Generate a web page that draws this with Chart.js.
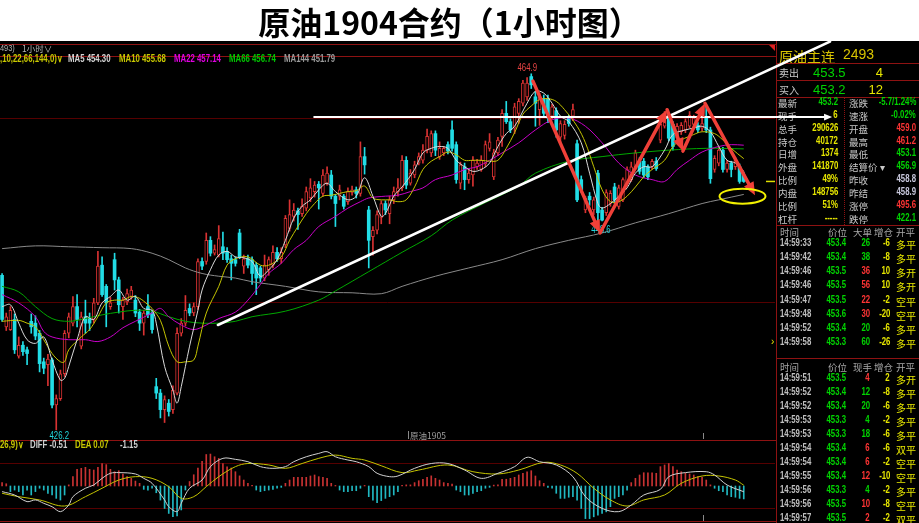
<!DOCTYPE html>
<html>
<head>
<meta charset="utf-8">
<script src="https://cdn.jsdelivr.net/npm/chart.js@4.4.1/dist/chart.umd.min.js"></script>
<style>
  html, body { margin: 0; padding: 0; overflow: hidden; }
  body { width: 919px; height: 523px; background: #000; position: relative; }
  #title { position: absolute; left: 0; top: 0; width: 899px; padding-right: 20px; height: 41px; background: #fff; color: #000;
           font: bold 32px "Noto Sans CJK SC", sans-serif; text-align: center; line-height: 43px; z-index: 5; }
  #panel { position: absolute; left: 0; top: 0; width: 919px; height: 523px; z-index: 2; }
  .t { position: absolute; white-space: nowrap; line-height: 14px; height: 14px; }
  .ln { position: absolute; }
  #main { position: absolute; left: 0; top: 41px; z-index: 3; }
  #macd { position: absolute; left: 0; top: 440px; z-index: 1; }
</style>
</head>
<body>
<div id="title">原油1904合约（1小时图）</div>
<div id="panel"></div>
<canvas id="main" width="919" height="399"></canvas>
<canvas id="macd" width="775" height="83"></canvas>
<script>
'use strict'

// 1 hour candles, oldest first
const opens = [443.0,437.4,437.1,438.2,434.2,435.4,434.9,438.0,437.8,436.7,
  433.6,433.3,433.8,428.9,429.6,432.3,436.7,437.8,439.6,435.3,
  438.5,438.3,438.2,440.0,444.1,441.8,439.6,444.7,442.5,439.6,
  440.1,440.7,440.3,439.0,437.8,439.6,438.9,430.9,430.2,428.4,
  429.1,428.4,430.2,436.7,437.8,439.4,438.9,439.6,444.5,444.5,
  446.8,445.4,445.2,446.1,445.6,444.8,444.7,447.6,444.0,444.8,
  444.7,444.1,443.8,442.7,443.6,444.1,445.5,444.8,446.3,448.1,
  449.4,450.0,449.7,450.3,451.4,452.1,452.9,451.9,453.0,453.9,
  451.6,451.6,451.6,451.0,452.0,452.3,451.9,455.9,450.1,447.2,
  447.9,449.3,450.8,449.7,451.2,452.1,452.5,455.5,453.0,453.9,
  455.2,455.5,456.6,456.3,458.4,455.9,456.3,457.2,458.8,457.2,
  453.0,454.8,453.4,453.9,454.8,454.5,455.1,456.8,453.7,456.3,
  458.1,460.6,459.7,459.0,460.6,461.7,462.4,464.6,462.4,461.0,
  462.2,462.2,460.3,460.9,458.0,458.2,460.1,460.3,457.3,453.4,
  450.1,451.6,450.1,454.1,450.1,449.8,450.8,452.6,450.5,451.2,
  453.0,453.4,454.8,455.4,455.4,454.8,454.8,455.4,457.7,459.2,
  460.2,459.4,457.9,458.6,458.8,459.2,459.4,459.3,459.0,460.2,
  458.8,454.5,455.2,456.6,454.5,455.2,454.8,454.8,453.9]
const highs = [443.2,438.9,439.6,438.8,436.3,435.8,435.2,438.8,438.6,437.0,
  434.0,434.4,434.0,430.0,432.7,437.0,438.9,440.7,440.9,439.0,
  440.3,438.9,440.5,445.6,445.0,442.0,440.6,445.4,442.8,440.6,
  441.5,441.8,440.8,439.3,439.2,440.9,439.2,431.8,430.6,429.9,
  429.5,431.0,437.3,438.3,440.8,439.9,440.0,444.8,444.9,447.6,
  447.2,446.3,448.4,447.7,446.0,445.2,445.0,448.0,445.2,445.2,
  445.0,444.4,444.0,445.2,445.0,446.2,446.0,446.0,449.5,451.2,
  450.8,450.3,451.3,452.6,453.5,453.2,453.2,454.5,454.8,454.4,
  451.8,452.8,451.8,452.5,452.7,452.6,457.5,456.9,450.5,448.3,
  450.0,451.1,451.1,451.6,452.6,453.5,456.0,455.9,454.5,455.4,
  456.3,457.2,458.9,458.7,458.7,457.5,457.0,457.5,459.8,457.5,
  455.3,455.2,454.5,455.9,455.6,456.0,457.6,458.4,456.7,458.0,
  461.0,461.9,460.0,461.7,462.2,464.2,464.5,464.9,463.0,462.8,
  462.6,462.6,461.6,461.2,459.8,459.8,460.4,461.6,457.7,453.8,
  451.6,452.0,451.5,454.4,450.4,452.3,452.2,453.0,452.8,453.6,
  454.8,455.3,456.6,455.8,455.7,455.0,455.6,455.8,459.8,460.8,
  460.5,459.7,459.5,459.6,460.0,460.8,460.4,459.6,461.2,461.5,
  459.1,456.0,456.9,456.9,455.5,455.4,455.8,455.1,454.2]
const lows = [438.0,437.0,437.0,434.5,434.0,434.3,433.3,436.7,436.0,432.5,
  432.3,431.0,428.6,426.2,429.4,432.0,436.2,437.5,437.4,435.0,
  436.7,437.0,437.8,439.8,440.7,437.4,439.3,441.4,438.9,438.2,
  439.8,440.4,438.5,437.0,436.5,438.4,436.7,429.6,427.5,427.0,
  427.7,428.0,430.0,436.4,437.5,438.6,438.6,439.3,443.6,444.2,
  445.1,445.2,445.0,444.7,444.4,442.5,444.0,444.8,443.2,443.8,
  442.0,440.9,442.3,442.4,443.0,443.8,444.5,444.3,446.0,447.8,
  448.9,448.0,449.4,450.0,451.0,451.5,450.2,451.6,452.8,451.3,
  448.3,451.2,450.2,450.7,451.7,451.4,451.6,454.0,443.8,445.2,
  447.5,448.6,449.6,448.6,450.8,451.6,452.2,452.4,452.8,453.6,
  455.0,455.2,456.3,455.9,456.0,455.6,456.0,456.2,456.5,453.0,
  452.4,452.3,453.0,452.7,454.5,454.3,454.8,456.5,453.4,456.0,
  457.0,459.5,458.5,458.4,459.5,461.4,462.0,463.3,459.2,459.3,
  460.2,459.6,460.0,458.0,457.5,457.8,459.2,459.8,451.0,452.0,
  449.8,450.6,449.6,448.6,448.9,449.5,450.5,450.8,450.2,451.0,
  452.8,453.2,454.5,454.0,453.6,453.4,454.5,454.4,457.4,459.0,
  457.6,456.6,457.6,458.3,458.5,459.0,459.1,458.5,458.7,458.5,
  453.0,454.2,454.9,454.2,454.2,453.7,454.5,453.0,453.1]
const closes = [438.2,438.5,439.2,434.9,435.4,434.7,434.5,437.4,436.4,433.4,
  432.9,433.9,428.9,429.6,432.3,436.7,438.5,439.6,438.2,438.5,
  437.8,437.8,440.0,444.0,440.9,440.0,440.0,442.5,439.8,440.3,
  441.0,441.4,438.9,437.8,438.9,438.7,437.1,430.2,428.4,429.5,
  428.2,430.5,436.7,437.8,439.2,438.9,439.6,444.5,444.0,446.8,
  445.4,445.8,447.0,445.4,444.7,444.3,444.3,445.0,444.8,444.1,
  443.2,442.7,442.7,444.1,444.7,445.5,444.8,445.5,449.2,449.6,
  450.1,449.6,450.5,452.1,452.5,452.8,452.5,453.9,454.1,451.6,
  450.8,452.3,450.5,452.1,452.3,451.9,455.9,455.0,446.8,447.9,
  449.6,450.8,450.1,451.2,452.1,452.5,455.5,452.8,454.1,455.0,
  455.9,456.6,458.1,458.4,456.6,456.8,456.8,456.5,456.8,453.4,
  455.0,453.4,454.1,455.5,455.2,455.5,457.2,457.5,456.3,457.7,
  460.6,459.7,458.8,461.3,461.9,463.9,463.9,463.7,461.7,462.4,
  460.6,460.1,461.3,458.8,459.5,459.4,459.5,461.0,451.2,452.3,
  451.4,451.2,451.2,449.8,449.0,452.0,451.9,451.2,452.5,453.4,
  454.5,454.8,456.3,454.3,453.9,453.7,455.4,454.6,459.4,460.6,
  457.9,457.0,459.2,459.3,459.7,460.4,460.1,458.8,459.5,458.8,
  453.5,455.7,456.6,454.5,455.2,454.5,455.5,453.2,453.2]

// moving averages as [candle, price]
const ma5Pts = [[0,439.6],[2,439.8],[4,437.8],[6,436.0],[8,435.6],[10,436.3],[12,433.8],[14,431.6],[15,431.8],[16,433.1],
  [18,436.0],[20,438.5],[22,438.2],[24,440.0],[26,440.7],[28,441.4],[30,440.3],[32,440.7],[34,439.4],[36,439.2],
  [37,437.8],[39,433.1],[41,430.5],[42,429.1],[43,430.9],[45,435.3],[47,439.2],[48,441.4],[50,443.6],[52,445.2],
  [54,445.6],[56,445.0],[58,444.9],[60,444.5],[62,442.9],[64,443.6],[66,444.7],[68,446.8],[70,449.2],[72,450.5],
  [74,451.2],[76,452.3],[78,453.0],[80,452.1],[83,451.2],[85,451.6],[87,453.6],[89,451.6],[91,449.4],[92,449.7],
  [94,451.6],[96,452.6],[99,454.5],[101,456.3],[103,456.8],[105,457.0],[107,456.8],[109,455.5],[111,454.8],[113,454.3],
  [115,454.5],[117,455.2],[119,457.0],[121,458.4],[123,459.2],[126,461.7],[128,463.0],[130,462.8],[132,461.7],[134,460.3],
  [136,459.7],[139,457.4],[141,454.1],[143,450.8],[144,450.3],[146,450.8],[148,451.6],[150,452.5],[152,454.1],[154,454.8],
  [156,454.8],[159,456.6],[161,458.3],[164,458.8],[166,459.0],[168,459.2],[170,458.6],[172,457.0],[174,455.5],[176,455.2],
  [178,454.30]]
const ma10Pts = [[0,438.0],[4,438.1],[6,437.8],[8,437.4],[10,436.0],[12,434.5],[14,433.6],[15,433.6],[16,434.9],[19,436.3],
  [21,437.1],[23,438.5],[25,440.0],[27,440.3],[29,440.3],[31,440.7],[33,440.5],[35,439.8],[36,439.4],[38,438.1],
  [40,435.3],[42,433.6],[44,433.6],[46,433.8],[47,435.3],[49,438.9],[52,441.8],[54,444.1],[56,444.8],[59,445.0],
  [62,444.1],[64,444.1],[67,445.0],[69,446.8],[71,448.3],[73,449.7],[75,450.8],[77,451.6],[79,451.7],[81,451.9],
  [83,452.1],[85,452.2],[87,452.7],[89,451.4],[91,451.2],[93,451.2],[95,451.0],[97,451.2],[99,452.6],[101,454.5],
  [103,455.4],[105,455.9],[107,456.4],[109,456.1],[111,455.5],[113,455.5],[115,455.5],[117,455.4],[119,455.5],[121,456.8],
  [123,458.5],[125,460.5],[127,461.4],[129,462.1],[131,462.2],[133,461.9],[135,461.0],[138,459.2],[140,457.4],[142,454.8],
  [144,452.3],[146,451.0],[148,451.0],[150,451.6],[152,452.6],[154,453.7],[156,454.5],[159,455.5],[161,457.0],[163,457.7],
  [166,458.3],[168,458.6],[171,458.4],[173,457.7],[175,456.8],[178,455.68]]
const ma22Pts = [[0,440.9],[4,440.0],[8,438.5],[10,436.9],[12,436.3],[16,436.0],[20,436.0],[23,435.8],[26,436.3],[29,437.3],
  [32,438.0],[36,438.9],[38,439.4],[40,438.5],[43,437.6],[46,437.1],[49,437.6],[52,438.3],[56,439.0],[59,440.3],
  [62,442.0],[64,443.2],[67,444.3],[70,445.8],[73,446.8],[76,448.3],[80,449.4],[83,450.3],[86,451.0],[88,451.4],
  [92,451.6],[95,451.7],[98,452.1],[101,452.5],[104,453.4],[108,453.9],[111,454.5],[114,454.8],[117,455.5],[120,456.3],
  [124,457.4],[128,458.8],[132,459.9],[136,460.1],[140,459.2],[144,457.4],[148,455.2],[152,453.9],[156,453.4],[159,453.2],
  [162,454.5],[165,455.5],[168,456.4],[172,457.0],[175,457.2],[178,457.14]]
const ma66Pts = [[0,441.8],[4,441.2],[8,439.6],[12,438.3],[16,438.0],[20,438.3],[24,438.7],[28,439.0],[32,439.2],[36,439.1],
  [40,438.5],[44,438.0],[48,437.8],[52,437.8],[56,438.0],[60,438.5],[68,439.1],[76,440.3],[80,441.3],[88,443.4],
  [96,445.5],[103,447.3],[108,449.0],[116,450.9],[124,452.7],[128,454.1],[136,455.4],[144,455.9],[152,456.3],[160,456.6],
  [169,456.8],[178,456.74]]
const ma144Pts = [[0,445.9],[8,446.2],[16,446.1],[24,446.0],[31,445.9],[36,445.4],[40,444.7],[44,443.8],[48,443.2],[52,442.9],
  [56,442.7],[60,442.3],[68,441.8],[76,441.2],[84,441.1],[91,441.0],[96,441.8],[104,442.9],[112,443.8],[120,444.7],
  [128,445.9],[136,446.8],[144,447.6],[152,448.7],[160,449.7],[168,450.8],[172,451.2],[178,451.79]]

// MACD(12,26,9)
const macdHist = [0.3,0.2,-0.5,-0.36,-0.5,-0.8,-0.36,-0.8,-0.5,-0.2,
  -0.36,-0.65,-0.8,-1.1,-1.25,-0.8,0.1,0.83,1.48,1.57,
  1.66,1.48,1.42,1.66,2.0,1.9,1.48,1.27,1.36,1.07,
  0.83,0.68,0.44,0.24,-0.3,-0.36,-0.2,-0.6,-1.25,-2.0,
  -2.44,-2.73,-2.67,-2.13,-0.36,0.4,1.0,1.6,2.2,2.8,
  2.84,2.6,2.45,2.0,1.7,1.6,1.27,0.9,0.53,0.24,
  0.05,-0.36,-0.5,-0.42,-0.36,-0.3,-0.2,-0.12,0.24,0.53,
  0.77,0.77,0.77,0.77,0.89,0.98,0.83,0.77,0.68,0.24,
  0.05,-0.36,-0.5,-0.5,-0.42,-0.42,-0.2,0.05,-0.95,-1.25,
  -1.48,-1.3,-1.1,-0.95,-0.8,-0.5,0.05,0.1,0.1,0.3,
  0.47,0.6,0.77,0.9,0.68,0.53,0.3,0.24,0.18,-0.36,
  -0.5,-0.8,-0.8,-0.65,-0.5,-0.42,-0.2,-0.12,0.08,0.1,
  0.6,0.6,0.68,0.77,0.98,1.13,1.27,1.36,0.89,0.47,
  0.24,-0.12,-0.2,-0.65,-1.1,-1.1,-1.0,-0.95,-1.25,-2.0,
  -2.9,-2.9,-2.74,-2.6,-2.44,-2.3,-1.84,-1.1,-0.95,-0.8,
  -0.36,0.3,0.68,0.98,1.18,1.18,1.18,1.13,1.72,1.87,
  2.0,1.72,1.42,1.27,1.13,1.07,0.98,0.83,0.77,0.53,
  0.1,-0.2,-0.42,-0.5,-0.8,-0.95,-1.0,-1.1,-1.15]
const diffPts = [[0,-0.5],[3,-0.8],[6,-1.39],[8,-1.24],[10,-1.54],[12,-1.84],[14,-2.28],[16,-1.69],[17,-0.95],[20,-0.2],
  [22,0.09],[24,0.68],[26,1.13],[28,1.19],[32,1.07],[34,0.68],[36,0.24],[39,-1.24],[40,-1.84],[42,-2.28],
  [43,-1.54],[45,-0.2],[48,0.53],[50,1.72],[53,2.46],[56,2.37],[59,2.16],[62,1.72],[65,1.57],[68,1.72],
  [70,2.16],[73,2.6],[76,2.9],[78,3.05],[80,2.6],[83,2.31],[85,2.16],[88,1.72],[90,1.13],[93,0.83],
  [95,0.89],[99,1.57],[103,2.0],[107,2.0],[111,1.42],[115,0.68],[119,1.13],[123,1.72],[126,2.55],[129,2.16],
  [133,1.87],[137,0.83],[140,-0.95],[144,-1.99],[148,-2.28],[151,-1.69],[154,-0.8],[158,-0.3],[160,0.83],[164,1.19],
  [169,1.27],[171,0.98],[174,0.09],[178,-0.51]]
const deaPts = [[0,-0.65],[4,-0.95],[9,-1.24],[15,-1.78],[20,-0.95],[24,-0.2],[28,0.53],[32,0.83],[36,0.68],[40,-0.06],
  [43,-1.1],[46,-0.95],[49,-0.06],[52,0.83],[56,1.72],[59,2.0],[64,1.87],[68,1.57],[72,2.0],[76,2.46],
  [80,2.75],[84,2.46],[87,2.31],[91,1.8],[96,1.19],[100,1.42],[107,1.87],[113,1.27],[119,1.07],[124,1.42],
  [130,2.1],[134,1.87],[138,1.13],[142,-0.2],[146,-1.24],[150,-1.78],[154,-1.24],[159,-0.8],[163,0.24],[168,0.89],
  [172,0.89],[176,0.53],[178,0.07]]

const priceGrid = [440, 460]
const macdGrid = [-2, 2]
const peakMarks = [[127, 'high'], [13, 'low'], [143, 'low']]

// hand drawn marks on the chart, in [candle, price]
const trendLine = [[51.8, 437.6], [198.7, 468.4]]
const resistLine = [[74.9, 460.2], [199.2, 460.2]]
const zigzag = [[127.4, 464.1], [143.5, 447.6], [159.6, 461.0], [163.4, 456.5], [168.7, 461.7], [180.7, 451.7]]
const ringAt = [177.7, 451.6]

// quote panel
const quoteLeft = [['最新','453.2','g'],['现手','6','y'],['总手','290626','y'],['持仓','40172','y'],['日增','1374','y'],
  ['外盘','141870','y'],['比例','49%','y'],['内盘','148756','y'],['比例','51%','y'],['杠杆','-----','y']]
const quoteRight = [['涨跌','-5.7/1.24%','g'],['速涨','-0.02%','g'],['开盘','459.0','r'],['最高','461.2','r'],['最低','453.1','g'],
  ['结算价 ▾','456.9','g'],['昨收','458.8','w'],['昨结','458.9','w'],['涨停','495.6','r'],['跌停','422.1','g']]
const bigTrades = [['14:59:33','453.4','26','g','-6','多平'],['14:59:42','453.4','38','g','-8','多平'],
  ['14:59:46','453.5','36','r','10','多开'],['14:59:46','453.5','56','r','10','多开'],
  ['14:59:47','453.5','22','r','-2','空平'],['14:59:48','453.6','30','r','-20','空平'],
  ['14:59:52','453.4','20','g','-6','多平'],['14:59:58','453.3','60','g','-26','多平']]
const trades = [['14:59:51','453.5','4','r','2','多开'],['14:59:52','453.4','12','g','-8','多平'],
  ['14:59:52','453.4','20','g','-6','多平'],['14:59:53','453.3','4','g','-2','多平'],
  ['14:59:53','453.3','18','g','-6','多平'],['14:59:54','453.4','6','r','-6','双平'],
  ['14:59:54','453.4','6','r','-2','空平'],['14:59:55','453.4','12','r','-10','空平'],
  ['14:59:56','453.3','4','g','-2','多平'],['14:59:56','453.5','10','r','-8','空平'],
  ['14:59:57','453.5','2','r','-2','双平']]

const N = 186
const slots = Array.from({ length: N }, (_, i) => i)
const RED = '#d83232'
const CYAN = '#22dde6'
const GRID = '#560000'
const BORDER = '#8e1212'
const CJK = '"Noto Sans CJK SC", sans-serif'
const SANS = '"Liberation Sans", sans-serif'
const NARROW = 0.78   // horizontal squeeze for the terminal's narrow digits
const COL = { g: '#00d400', y: '#e6e600', r: '#ff3434', w: '#c8c8dc' }

const spread = function (pts) {
  const a = new Array(N).fill(null)
  pts.forEach(([i, v]) => { a[i] = v })
  return a
}
const isUp = i => closes[i] >= opens[i]

const maLine = function (pts, color) {
  return { type: 'line', data: spread(pts), borderColor: color, borderWidth: 1, pointRadius: 0,
    tension: 0.35, spanGaps: true, order: 1 }
}

const arrow = function (ctx, x1, y1, x2, y2, w, head, color) {
  const a = Math.atan2(y2 - y1, x2 - x1)
  const bx = x2 - head * Math.cos(a)
  const by = y2 - head * Math.sin(a)
  const hw = head * 0.42
  ctx.strokeStyle = color
  ctx.fillStyle = color
  ctx.lineWidth = w
  ctx.beginPath(); ctx.moveTo(x1, y1); ctx.lineTo(bx, by); ctx.stroke()
  ctx.beginPath()
  ctx.moveTo(x2, y2)
  ctx.lineTo(bx + hw * Math.sin(a), by - hw * Math.cos(a))
  ctx.lineTo(bx - hw * Math.sin(a), by + hw * Math.cos(a))
  ctx.closePath(); ctx.fill()
}

const narrowText = function (ctx, s, x, y) {
  ctx.save()
  ctx.translate(x, y)
  ctx.scale(NARROW, 1)
  ctx.fillText(s, 0, 0)
  ctx.restore()
}

const drawings = {
  id: 'drawings',
  afterDatasetsDraw(chart) {
    const { ctx, chartArea } = chart
    const X = i => chart.scales.x.getPixelForValue(i)
    const Y = p => chart.scales.y.getPixelForValue(p)
    ctx.save()

    ctx.font = '10px ' + SANS
    ctx.textAlign = 'center'
    peakMarks.forEach(([i, kind]) => {
      if (kind === 'high') {
        ctx.fillStyle = '#e84444'; ctx.textBaseline = 'bottom'
        narrowText(ctx, highs[i].toFixed(1), X(i) - 4, Y(highs[i]) - 1)
      } else {
        ctx.fillStyle = '#22d4dc'; ctx.textBaseline = 'top'
        narrowText(ctx, lows[i].toFixed(1), X(i) + 3, Y(lows[i]) + 1)
      }
    })

    const last = closes[closes.length - 1]
    ctx.strokeStyle = '#e0e000'; ctx.lineWidth = 1.5
    ctx.beginPath(); ctx.moveTo(chartArea.right - 9, Y(last)); ctx.lineTo(chartArea.right, Y(last)); ctx.stroke()

    ctx.lineCap = 'round'
    ctx.strokeStyle = '#ffffff'; ctx.lineWidth = 2.6
    ctx.beginPath()
    ctx.moveTo(X(trendLine[0][0]), Y(trendLine[0][1]))
    ctx.lineTo(X(trendLine[1][0]), Y(trendLine[1][1]))
    ctx.stroke()
    arrow(ctx, X(resistLine[0][0]), Y(resistLine[0][1]), X(resistLine[1][0]), Y(resistLine[1][1]), 2, 8, '#ffffff')

    for (let k = 0; k < zigzag.length - 1; k++) {
      arrow(ctx, X(zigzag[k][0]), Y(zigzag[k][1]), X(zigzag[k + 1][0]), Y(zigzag[k + 1][1]), 3.5, 13, '#f04038')
    }

    ctx.strokeStyle = '#f2f000'; ctx.lineWidth = 2
    ctx.beginPath(); ctx.ellipse(X(ringAt[0]), Y(ringAt[1]), 23, 7.5, 0, 0, Math.PI * 2); ctx.stroke()
    ctx.restore()
  }
}

new Chart(document.getElementById('main'), {
  type: 'bar',
  data: {
    labels: slots,
    datasets: [
      maLine(ma5Pts, '#dadada'),
      maLine(ma10Pts, '#c4c400'),
      maLine(ma22Pts, '#c800c8'),
      maLine(ma66Pts, '#00a800'),
      maLine(ma144Pts, '#8a8a8a'),
      {
        type: 'bar', data: opens.map((o, i) => [o, closes[i]]), barThickness: 3, minBarLength: 1,
        backgroundColor: c => isUp(c.dataIndex) ? '#000' : CYAN,
        borderColor: RED, borderWidth: c => isUp(c.dataIndex) ? 1 : 0,
        borderSkipped: false, grouped: false, order: 2
      },
      {
        type: 'bar', data: lows.map((l, i) => [l, highs[i]]), barThickness: 1,
        backgroundColor: c => isUp(c.dataIndex) ? RED : CYAN, grouped: false, order: 3
      }
    ]
  },
  options: {
    responsive: false,
    animation: false,
    layout: { padding: { left: 0, right: 144, top: 19, bottom: 0 } },
    plugins: { legend: { display: false }, tooltip: { enabled: false } },
    scales: {
      x: { display: false, offset: true },
      y: {
        min: 425.1, max: 466.4,
        afterBuildTicks: s => { s.ticks = priceGrid.map(v => ({ value: v })) },
        ticks: { display: false }, border: { display: false },
        grid: { color: GRID, drawTicks: false }
      }
    }
  },
  plugins: [drawings]
})

new Chart(document.getElementById('macd'), {
  type: 'bar',
  data: {
    labels: slots,
    datasets: [
      { type: 'line', data: spread(diffPts), borderColor: '#d0d0d0', borderWidth: 1, pointRadius: 0, tension: 0.35, spanGaps: true, order: 1 },
      { type: 'line', data: spread(deaPts), borderColor: '#c4c400', borderWidth: 1, pointRadius: 0, tension: 0.35, spanGaps: true, order: 1 },
      { type: 'bar', data: macdHist, barThickness: 1, backgroundColor: c => macdHist[c.dataIndex] >= 0 ? '#c83232' : '#20b8c2', order: 2 }
    ]
  },
  options: {
    responsive: false,
    animation: false,
    layout: { padding: 0 },
    plugins: { legend: { display: false }, tooltip: { enabled: false } },
    scales: {
      x: { display: false, offset: true },
      y: {
        min: -3.29, max: 4.09,
        afterBuildTicks: s => { s.ticks = macdGrid.map(v => ({ value: v })) },
        ticks: { display: false }, border: { display: false },
        grid: { color: GRID, drawTicks: false }
      }
    }
  }
})

// text and frame around the charts
const panel = document.getElementById('panel')

// opts: right-aligned, bold, narrow (squeezed latin digits)
const txt = function (x, y, s, color, size, font, opts) {
  const o = opts || {}
  const d = document.createElement('div')
  d.className = 't'
  d.textContent = s
  d.style.color = color
  d.style.font = (o.bold ? 'bold ' : '') + size + 'px ' + font
  d.style.top = (y - 7) + 'px'
  if (o.right) d.style.right = (919 - x) + 'px'
  else d.style.left = x + 'px'
  if (o.narrow) {
    d.style.transform = 'scaleX(' + NARROW + ')'
    d.style.transformOrigin = o.right ? 'right center' : 'left center'
  }
  panel.appendChild(d)
}
const line = function (x, y, w, h, color, dotted) {
  const d = document.createElement('div')
  d.className = 'ln'
  d.style.left = x + 'px'; d.style.top = y + 'px'
  if (dotted) {
    d.style.width = '0px'; d.style.height = h + 'px'; d.style.borderLeft = '1px dotted ' + color
  } else {
    d.style.width = w + 'px'; d.style.height = h + 'px'; d.style.background = color
  }
  panel.appendChild(d)
}
const NB = { narrow: true, bold: true }
const RB = { right: true, bold: true, narrow: true }

// chart frame
line(0, 44, 776, 1, BORDER)
line(0, 56, 776, 1, BORDER)
line(0, 440, 776, 1, BORDER)
line(0, 521, 776, 1, BORDER)
line(776, 41, 1, 482, BORDER)
line(703, 433, 1, 6, '#8a8a8a')
line(703, 515, 1, 6, '#8a8a8a')
line(408, 431, 1, 8, '#8a8a8a')

txt(0, 49, '493)', '#b4b4b4', 9.5, SANS, { narrow: true })
txt(22, 49, '1小时∨', '#b4b4b4', 8.5, CJK)

const maNames = [['MA5', ma5Pts, '#d4d4d4', 68], ['MA10', ma10Pts, '#c8c800', 119], ['MA22', ma22Pts, '#e000e0', 174],
  ['MA66', ma66Pts, '#00c800', 229], ['MA144', ma144Pts, '#9a9a9a', 284]]
txt(0, 60, ',10,22,66,144,0)∨', '#c8c800', 10, SANS, NB)
maNames.forEach(([name, pts, color, x]) => {
  txt(x, 60, name + ' ' + pts[pts.length - 1][1].toFixed(2), color, 10, SANS, NB)
})

const diffLast = diffPts[diffPts.length - 1][1]
const deaLast = deaPts[deaPts.length - 1][1]
txt(0, 446, '26,9)∨', '#c8c800', 10, SANS, NB)
txt(30, 446, 'DIFF ' + diffLast.toFixed(2), '#d0d0d0', 10, SANS, NB)
txt(75, 446, 'DEA ' + deaLast.toFixed(2), '#c8c800', 10, SANS, NB)
txt(120, 446, macdHist[macdHist.length - 1].toFixed(2), '#d0d0d0', 10, SANS, NB)
txt(410, 436, '原油1905', '#a0a0a0', 8.5, CJK)

// small red corner mark
const tri = document.createElement('div')
tri.className = 'ln'
tri.style.left = '769px'; tri.style.top = '45px'; tri.style.width = '0'; tri.style.height = '0'
tri.style.borderLeft = '6px solid transparent'; tri.style.borderTop = '6px solid #e02020'
panel.appendChild(tri)

// quote header
txt(779, 53, '原油主连', '#d8c400', 14, CJK)
txt(843, 53, '2493', '#d8c400', 14, SANS)
line(776, 63, 143, 1, BORDER)
txt(779, 72, '卖出', '#c8c8c8', 10, CJK)
txt(813, 72, '453.5', COL.g, 13, SANS)
txt(883, 72, '4', COL.y, 13, SANS, { right: true })
line(776, 80, 143, 1, BORDER)
txt(779, 89, '买入', '#c8c8c8', 10, CJK)
txt(813, 89, '453.2', COL.g, 13, SANS)
txt(883, 89, '12', COL.y, 13, SANS, { right: true })
line(776, 97, 143, 1, BORDER)

quoteLeft.forEach(([label, val, c], k) => {
  const y = 103 + k * 12.85
  txt(778, y, label, '#c8c8c8', 9.5, CJK)
  txt(838, y, val, COL[c], 10, SANS, RB)
})
quoteRight.forEach(([label, val, c], k) => {
  const y = 103 + k * 12.85
  txt(849, y, label, '#c8c8c8', 9.5, CJK)
  txt(916, y, val, COL[c], 10, SANS, RB)
})
line(844, 98, 1, 127, BORDER, true)
line(776, 225, 143, 1, BORDER)

const tradeHead = function (y, third) {
  txt(780, y, '时间', '#a8a8a8', 9.5, CJK)
  txt(828, y, '价位', '#a8a8a8', 9.5, CJK)
  txt(853, y, third, '#a8a8a8', 9.5, CJK)
  txt(874, y, '增仓', '#a8a8a8', 9.5, CJK)
  txt(896, y, '开平', '#a8a8a8', 9.5, CJK)
}
const tradeRows = function (rows, y0, step) {
  rows.forEach(([t, p, v, c, d, kind], k) => {
    const y = y0 + k * step
    txt(780, y, t, '#c0c0c0', 10, SANS, NB)
    txt(846, y, p, COL.g, 10, SANS, RB)
    txt(870, y, v, COL[c], 10, SANS, RB)
    txt(890, y, d, COL.y, 10, SANS, RB)
    txt(896, y, kind, COL.y, 10, CJK)
  })
}
tradeHead(232, '大单')
tradeRows(bigTrades, 244, 14.15)
txt(771, 343, '›', COL.y, 10, SANS)
line(776, 358, 143, 1, BORDER)
tradeHead(367, '现手')
tradeRows(trades, 379.3, 13.97)
</script>
</body>
</html>
